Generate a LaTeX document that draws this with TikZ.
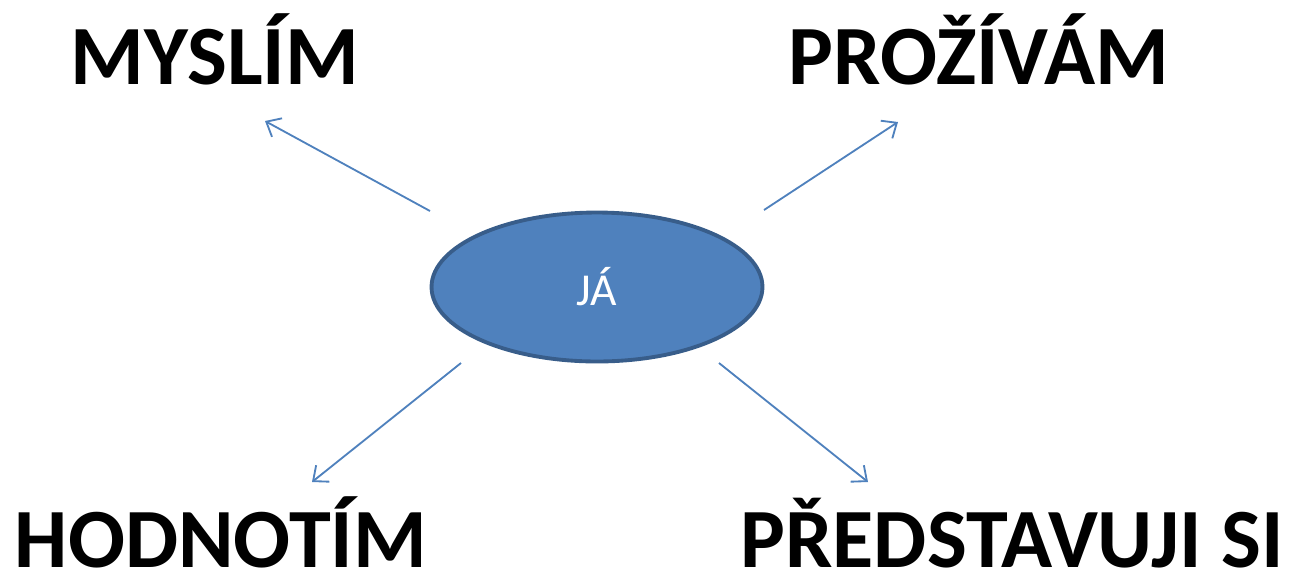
\documentclass[tikz,border=0pt]{standalone}
\usepackage{fontspec}
\setmainfont{Carlito}
\usetikzlibrary{shapes.geometric,arrows.meta}
\definecolor{jablue}{HTML}{4F81BD}
\definecolor{jaborder}{HTML}{385D8A}
\def\wordlist{{(215,84)/myslim/MYSLÍM}, {(979,84)/prozivam/PROŽÍVÁM}, {(221,567)/hodnotim/HODNOTÍM}, {(1012,567)/predstavuji/PŘEDSTAVUJI SI}}
\def\taillist{{(430,211)/ul}, {(764,210)/ur}, {(461,363)/ll}, {(719,363)/lr}}
\def\tiplist{{(265,121)/ul}, {(898,122)/ur}, {(312,482)/ll}, {(868,482)/lr}}
\tikzstyle{word}=[font=\fontsize{48}{52}\selectfont\bfseries,anchor=base,inner sep=0pt]
\tikzstyle{self}=[ellipse,draw=jaborder,line width=2.2pt,fill=jablue,minimum width=6.62cm,minimum height=2.98cm,text=white,font=\fontsize{26}{30}\selectfont]
\tikzstyle{end-point}=[coordinate]
\tikzstyle{edge} = [draw,jablue,line width=1.05pt,-{Straight Barb[length=7pt,width=12pt]}]

\begin{document}
\begin{tikzpicture}[x=0.02cm,y=-0.02cm]
  \path[use as bounding box] (0,0) rectangle (1295,576);

  %  First we draw the words
  \foreach \pos/\name/\text in \wordlist
    \node[word] (\name) at \pos {\text};

  \node[self] (ja) at (597,287) {JÁ};

  % Free ends of the arrows
  \foreach \pos/\name in \taillist
    \node[end-point] (\name-) at \pos {};
  \foreach \pos/\name in \tiplist
    \node[end-point] (\name+) at \pos {};

  % Connect them with arrows
  \foreach \name in {ul,ur,ll,lr}
    \path[edge] (\name-) -- (\name+);
\end{tikzpicture}
\end{document}
